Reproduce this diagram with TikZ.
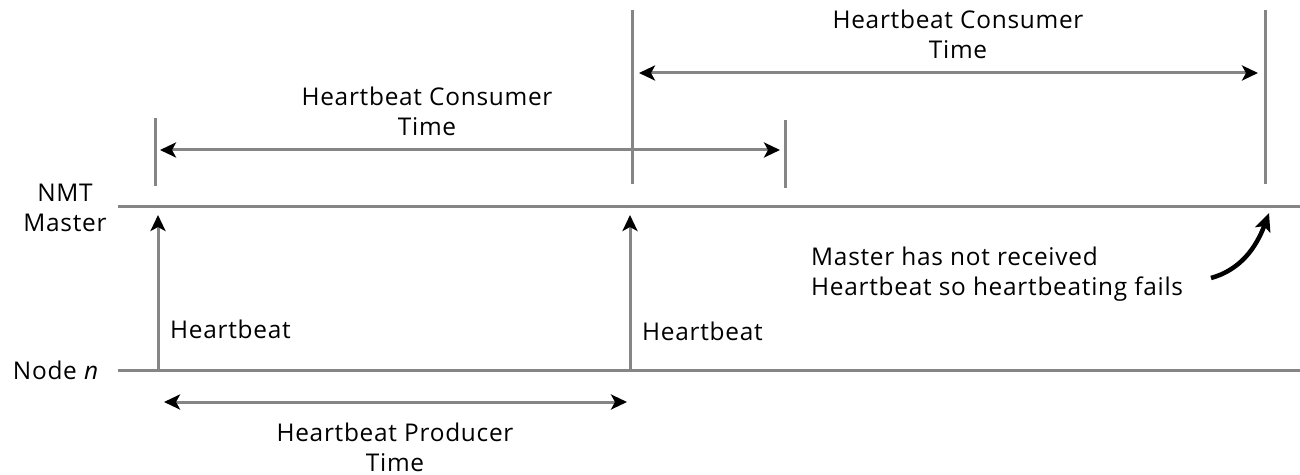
\documentclass[tikz,border=0pt]{standalone}
\usepackage{fontspec}
\setmainfont{Open Sans}[LetterSpace=3]
\usetikzlibrary{arrows.meta}
\definecolor{linegray}{HTML}{858585}
\tikzset{
  timeline/.style={draw=linegray, line width=3bp},
  tick/.style={draw=linegray, line width=3bp},
  tip/.style={-{Stealth[black,length=16bp,width=15bp,inset=4bp]}},
  span/.style={draw=linegray, line width=3bp, {Stealth[black,length=16bp,width=15bp,inset=4bp]}-{Stealth[black,length=16bp,width=15bp,inset=4bp]}},
  lbl/.style={font=\fontsize{24.5}{30}\selectfont, text=black, inner sep=0pt, align=center},
}
\begin{document}
\begin{tikzpicture}[x=1bp, y=-1bp]
\useasboundingbox (0,0) rectangle (1300,475);

% time lines
\coordinate (mL) at (118,207); \coordinate (mR) at (1300,207);
\coordinate (nL) at (118,370); \coordinate (nR) at (1300,370);
\draw[timeline] (mL) -- (mR);
\draw[timeline] (nL) -- (nR);

% row labels
\node[lbl] (nmt) at (65,208) {NMT\\Master};
\node[lbl, anchor=east] (node) at (99,370) {Node \textit{n}};

% heartbeat messages
\coordinate (h1a) at (158,370); \coordinate (h1b) at (158,215);
\coordinate (h2a) at (630,370); \coordinate (h2b) at (630,215);
\draw[timeline, tip] (h1a) -- (h1b);
\draw[timeline, tip] (h2a) -- (h2b);
\node[lbl, anchor=west] (hb1) at (170,329) {Heartbeat};
\node[lbl, anchor=west] (hb2) at (642,331) {Heartbeat};

% consumer time markers
\coordinate (t1a) at (155,118); \coordinate (t1b) at (155,186);
\coordinate (t2a) at (632,10);  \coordinate (t2b) at (632,184);
\coordinate (t3a) at (785,120); \coordinate (t3b) at (785,188);
\coordinate (t4a) at (1265,10); \coordinate (t4b) at (1265,184);
\draw[tick] (t1a) -- (t1b);
\draw[tick] (t2a) -- (t2b);
\draw[tick] (t3a) -- (t3b);
\draw[tick] (t4a) -- (t4b);

% consumer time spans
\coordinate (c1a) at (160,150); \coordinate (c1b) at (780,150);
\coordinate (c2a) at (639,73);  \coordinate (c2b) at (1258,73);
\draw[span] (c1a) -- (c1b);
\draw[span] (c2a) -- (c2b);
\node[lbl] (ct1) at (427,111) {Heartbeat Consumer\\Time};
\node[lbl] (ct2) at (958,34) {Heartbeat Consumer\\Time};

% producer time span
\coordinate (p1a) at (164,402); \coordinate (p1b) at (627,402);
\draw[span] (p1a) -- (p1b);
\node[lbl] (pt) at (395,447) {Heartbeat Producer\\Time};

% failure note
\node[lbl, align=left, anchor=west] (fail) at (811,274) {Master has not received\\Heartbeat so heartbeating fails};
\coordinate (fc) at (1269,213);
\draw[black, line width=4.5bp, -{Stealth[length=18bp,width=16bp,inset=4bp]}] (1211,278) .. controls (1240,270) and (1256,248) .. (fc);
\end{tikzpicture}
\end{document}
